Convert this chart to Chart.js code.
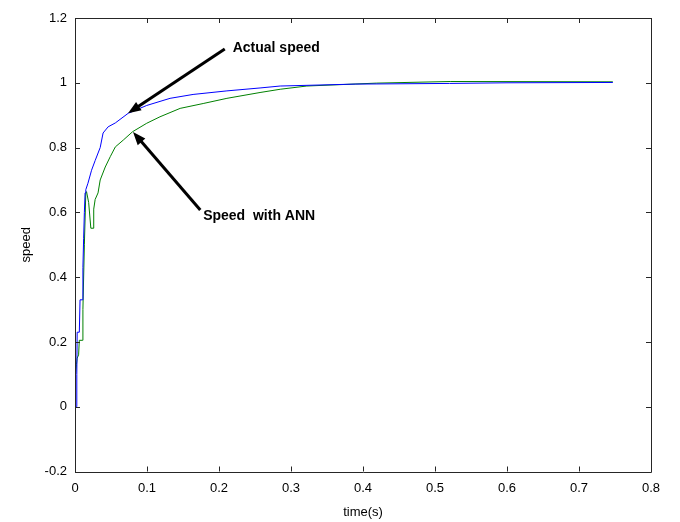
<!DOCTYPE html>
<html>
<head>
<meta charset="utf-8">
<script src="https://cdn.jsdelivr.net/npm/chart.js@4/dist/chart.umd.min.js"></script>
<style>
  html, body { margin: 0; padding: 0; background: #ffffff; }
  canvas { display: block; }
</style>
</head>
<body>
<canvas id="c" width="680" height="522"></canvas>
<script>
// ---- data ----
const actualTime  = [0, 0.002, 0.0025, 0.003, 0.006, 0.007, 0.010, 0.011, 0.012, 0.013, 0.014, 0.015, 0.018, 0.023, 0.028, 0.035, 0.039, 0.046, 0.056, 0.074, 0.0996, 0.132, 0.164, 0.211, 0.257, 0.285, 0.39, 0.52, 0.60, 0.747];
const actualSpeed = [0, 0.0, 0.10, 0.23, 0.23, 0.33, 0.33, 0.43, 0.52, 0.60, 0.66, 0.67, 0.69, 0.73, 0.76, 0.80, 0.845, 0.864, 0.876, 0.906, 0.930, 0.952, 0.964, 0.975, 0.984, 0.990, 0.996, 0.998, 1.000, 1.001];

const annTime  = [0, 0.0005, 0.001, 0.002, 0.003, 0.005, 0.006, 0.010, 0.011, 0.013, 0.015, 0.016, 0.019, 0.022, 0.025, 0.026, 0.028, 0.032, 0.035, 0.042, 0.049, 0.056, 0.067, 0.080, 0.0996, 0.118, 0.146, 0.178, 0.211, 0.257, 0.285, 0.322, 0.419, 0.522, 0.747];
const annSpeed = [0.02, 0.14, 0.10, 0.13, 0.15, 0.16, 0.205, 0.205, 0.30, 0.50, 0.66, 0.664, 0.63, 0.551, 0.551, 0.61, 0.64, 0.66, 0.70, 0.74, 0.772, 0.802, 0.823, 0.849, 0.875, 0.895, 0.921, 0.936, 0.952, 0.970, 0.980, 0.990, 0.999, 1.004, 1.003];

const xTicks = [0, 0.1, 0.2, 0.3, 0.4, 0.5, 0.6, 0.7, 0.8];
const yTicks = [-0.2, 0, 0.2, 0.4, 0.6, 0.8, 1, 1.2];

const seriesNames = ['Actual speed', 'Speed with ANN'];
const xTitle = 'time(s)';
const yTitle = 'speed';

// annotation text + arrow (in data units: text anchor, arrow tail, arrow tip)
const noteText  = ['Actual speed', 'Speed  with ANN'];
const noteTextX = [0.219, 0.178];
const noteTextY = [1.107, 0.589];
const arrowFromX = [0.208, 0.174];
const arrowFromY = [1.104, 0.607];
const arrowToX   = [0.0736, 0.0806];
const arrowToY   = [0.906, 0.848];

// ---- build ----
const toPts = (xs, ys) => xs.map((x, i) => ({ x: x, y: ys[i] }));

const framePlugin = {
  id: 'frame',
  afterDatasetsDraw(chart) {
    const ctx = chart.ctx;
    const a = chart.chartArea;
    const xs = chart.scales.x, ys = chart.scales.y;
    const L = 5;
    ctx.save();
    ctx.strokeStyle = '#262626';
    ctx.lineWidth = 1;
    ctx.beginPath();
    ctx.rect(Math.round(a.left) + 0.5, Math.round(a.top) + 0.5, Math.round(a.right - a.left), Math.round(a.bottom - a.top));
    xTicks.forEach(v => {
      const p = Math.round(xs.getPixelForValue(v)) + 0.5;
      ctx.moveTo(p, a.bottom); ctx.lineTo(p, a.bottom - L);
      ctx.moveTo(p, a.top); ctx.lineTo(p, a.top + L);
    });
    yTicks.forEach(v => {
      const p = Math.round(ys.getPixelForValue(v)) + 0.5;
      ctx.moveTo(a.left, p); ctx.lineTo(a.left + L, p);
      ctx.moveTo(a.right, p); ctx.lineTo(a.right - L, p);
    });
    ctx.stroke();
    ctx.restore();
  },
  afterDraw(chart) {
    const ctx = chart.ctx;
    const xs = chart.scales.x, ys = chart.scales.y;
    ctx.save();
    for (let i = 0; i < noteText.length; i++) {
      const x0 = xs.getPixelForValue(arrowFromX[i]), y0 = ys.getPixelForValue(arrowFromY[i]);
      const x1 = xs.getPixelForValue(arrowToX[i]),   y1 = ys.getPixelForValue(arrowToY[i]);
      const ang = Math.atan2(y1 - y0, x1 - x0);
      const hl = 13, hw = 5;
      const bx = x1 - hl * Math.cos(ang), by = y1 - hl * Math.sin(ang);
      ctx.strokeStyle = '#000'; ctx.fillStyle = '#000';
      ctx.lineWidth = 3;
      ctx.beginPath();
      ctx.moveTo(x0, y0); ctx.lineTo(bx + 3 * Math.cos(ang), by + 3 * Math.sin(ang));
      ctx.stroke();
      ctx.beginPath();
      ctx.moveTo(x1, y1);
      ctx.lineTo(bx + hw * Math.sin(ang), by - hw * Math.cos(ang));
      ctx.lineTo(bx - hw * Math.sin(ang), by + hw * Math.cos(ang));
      ctx.closePath();
      ctx.fill();
      ctx.font = 'bold 14px "Liberation Sans", Arial, sans-serif';
      ctx.textAlign = 'left'; ctx.textBaseline = 'middle';
      ctx.fillText(noteText[i], xs.getPixelForValue(noteTextX[i]), ys.getPixelForValue(noteTextY[i]));
    }
    ctx.restore();
  }
};

const font = { family: '"Liberation Sans", Arial, sans-serif', size: 13 };

new Chart(document.getElementById('c'), {
  type: 'scatter',
  data: {
    datasets: [
      { label: seriesNames[0], data: toPts(actualTime, actualSpeed), showLine: true, borderColor: '#0000ff', backgroundColor: '#0000ff', borderWidth: 1, pointRadius: 0, tension: 0 },
      { label: seriesNames[1], data: toPts(annTime, annSpeed), showLine: true, borderColor: '#008000', backgroundColor: '#008000', borderWidth: 1, pointRadius: 0, tension: 0 }
    ]
  },
  options: {
    responsive: false,
    devicePixelRatio: 1,
    animation: false,
    layout: { padding: { top: 18, right: 29, left: 0, bottom: 0 } },
    plugins: { legend: { display: false }, tooltip: { enabled: false } },
    scales: {
      x: {
        type: 'linear', min: 0, max: 0.8,
        afterBuildTicks(s) { s.ticks = xTicks.map(v => ({ value: v })); },
        afterFit(s) { s.height = 50.5; },
        grid: { display: false, drawTicks: false },
        border: { display: false },
        ticks: { color: '#000', font: font, padding: 9, maxRotation: 0, autoSkip: false,
                 callback: v => String(Math.round(v * 10) / 10) },
        title: { display: true, text: xTitle, color: '#000', font: font, padding: { top: 0, bottom: 2 } }
      },
      y: {
        type: 'linear', min: -0.2, max: 1.2,
        afterBuildTicks(s) { s.ticks = yTicks.map(v => ({ value: v })); },
        afterFit(s) { s.width = 75; },
        grid: { display: false, drawTicks: false },
        border: { display: false },
        ticks: { color: '#000', font: font, padding: 8, autoSkip: false,
                 callback: v => String(Math.round(v * 10) / 10) },
        title: { display: true, text: yTitle, color: '#000', font: font, padding: { top: 19, bottom: 0 } }
      }
    }
  },
  plugins: [framePlugin]
});
</script>
</body>
</html>
